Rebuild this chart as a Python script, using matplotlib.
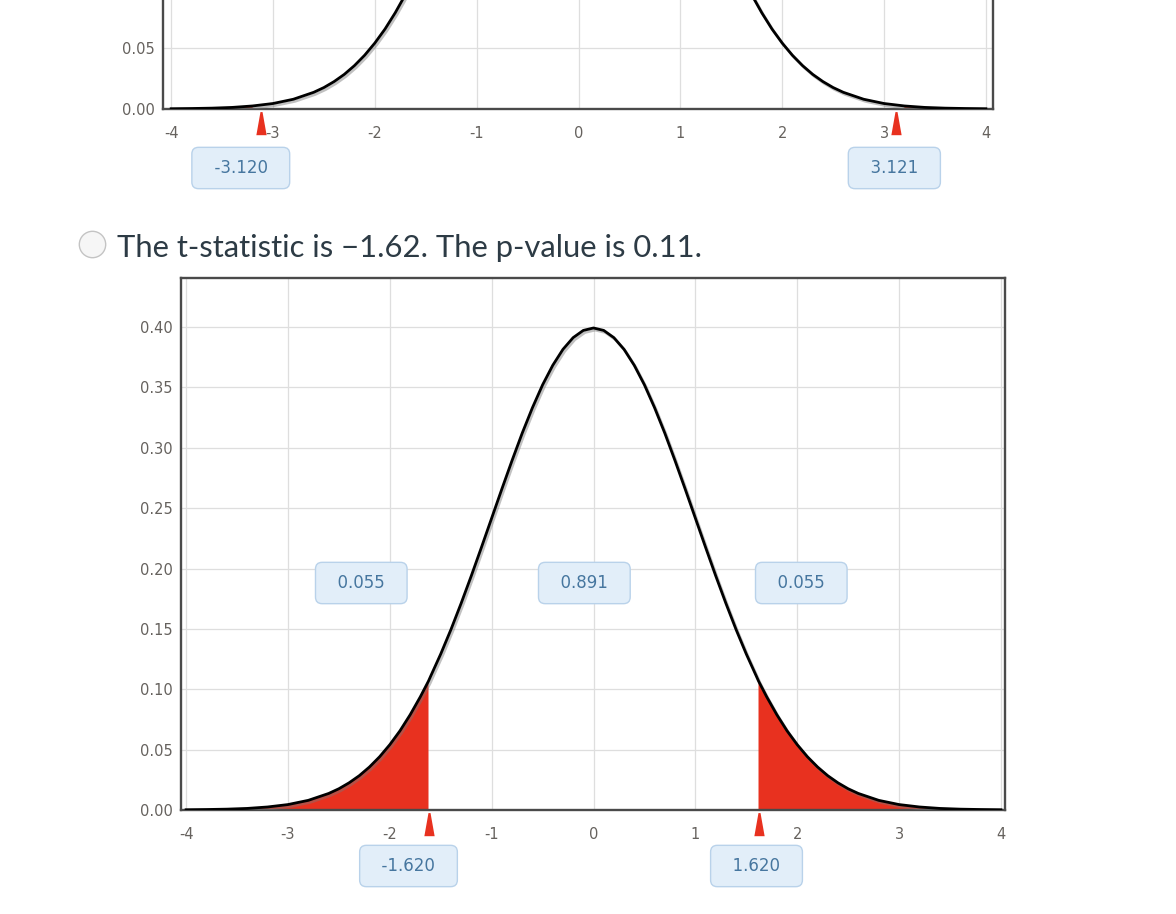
import matplotlib
matplotlib.use("Agg")
import matplotlib.pyplot as plt
import matplotlib.patheffects as pe
from matplotlib.path import Path
import numpy as np

# density curve (t distribution, close to normal)
t_vals = [-4.0, -3.8, -3.6, -3.4, -3.2, -3.0, -2.8, -2.6, -2.5, -2.4, -2.3,
          -2.2, -2.1, -2.0, -1.9, -1.8, -1.7, -1.62, -1.6, -1.5, -1.4, -1.3,
          -1.2, -1.1, -1.0, -0.9, -0.8, -0.7, -0.6, -0.5, -0.4, -0.3, -0.2,
          -0.1, 0.0, 0.1, 0.2, 0.3, 0.4, 0.5, 0.6, 0.7, 0.8, 0.9, 1.0, 1.1,
          1.2, 1.3, 1.4, 1.5, 1.6, 1.62, 1.7, 1.8, 1.9, 2.0, 2.1, 2.2, 2.3,
          2.4, 2.5, 2.6, 2.8, 3.0, 3.2, 3.4, 3.6, 3.8, 4.0]
density = [0.0002, 0.0004, 0.0007, 0.0013, 0.0025, 0.0045, 0.0080, 0.0137,
           0.0176, 0.0225, 0.0284, 0.0356, 0.0441, 0.0541, 0.0656, 0.0789,
           0.0938, 0.1068, 0.1106, 0.1292, 0.1494, 0.1711, 0.1939, 0.2176,
           0.2417, 0.2658, 0.2894, 0.3121, 0.3331, 0.3521, 0.3683, 0.3815,
           0.3912, 0.3972, 0.3992, 0.3972, 0.3912, 0.3815, 0.3683, 0.3521,
           0.3331, 0.3121, 0.2894, 0.2658, 0.2417, 0.2176, 0.1939, 0.1711,
           0.1494, 0.1292, 0.1106, 0.1068, 0.0938, 0.0789, 0.0656, 0.0541,
           0.0441, 0.0356, 0.0284, 0.0225, 0.0176, 0.0137, 0.0080, 0.0045,
           0.0025, 0.0013, 0.0007, 0.0004, 0.0002]

# top (cropped) chart
top_crit = [-3.120, 3.121]
top_crit_labels = ["-3.120", "3.121"]
top_y_ticks = [0.00, 0.05]

# bottom chart
bot_crit = [-1.620, 1.620]
bot_crit_labels = ["-1.620", "1.620"]
area_labels = ["0.055", "0.891", "0.055"]
area_x = [-2.28, -0.09, 2.04]
area_y = 0.188

question = "The t-statistic is \u22121.62. The p-value is 0.11."

x_ticks = [-4, -3, -2, -1, 0, 1, 2, 3, 4]
y_ticks = [0.00, 0.05, 0.10, 0.15, 0.20, 0.25, 0.30, 0.35, 0.40]

RED = "#e8311f"
BOX_FC = "#e2eef9"
BOX_EC = "#b9d2ea"
BOX_TXT = "#46769f"

plt.rcParams["font.family"] = ["DejaVu Sans"]
plt.rcParams["axes.unicode_minus"] = False

W, H = 1176, 914
fig = plt.figure(figsize=(W / 100, H / 100), dpi=100)

# tick marker: thin spike widening downward, tip at the axis
spike = Path([(-0.04, -0.1), (0.04, -0.1), (0.2, -1.0), (-0.2, -1.0), (-0.04, -0.1)],
             [Path.MOVETO, Path.LINETO, Path.LINETO, Path.LINETO, Path.CLOSEPOLY])


def setup_axes(rect, xlim, yt):
    ax = fig.add_axes(rect)
    ax.set_xlim(*xlim)
    ax.set_ylim(0, 0.4406)
    ax.set_xticks(x_ticks)
    ax.set_xticklabels([str(v) for v in x_ticks])
    ax.set_yticks(yt)
    ax.set_yticklabels([f"{v:.2f}" for v in yt])
    ax.tick_params(length=0, labelsize=10.5, labelcolor="#66625e")
    ax.tick_params(axis="x", pad=12)
    ax.tick_params(axis="y", pad=6)
    ax.grid(True, color="#dedede", linewidth=0.9)
    ax.set_axisbelow(True)
    for s in ax.spines.values():
        s.set_color("#4a4a4a")
        s.set_linewidth(1.7)
    return ax


def draw_curve(ax, crit):
    t = np.array(t_vals)
    d = np.array(density)
    ax.fill_between(t, d, where=(t <= crit[0]) | (t >= crit[1]),
                    color=RED, linewidth=0, zorder=2)
    ax.plot(t, d, color="black", linewidth=2.0, zorder=3,
            path_effects=[pe.SimpleLineShadow(offset=(1.2, -1.5), shadow_color="#777777", alpha=0.45),
                          pe.Normal()])


def label_box(ax, x, y, text, **kw):
    return ax.annotate("  " + text + "  ", xy=(x, y), ha="center", va="center",
                       fontsize=12, color=BOX_TXT, annotation_clip=False, zorder=6,
                       bbox=dict(boxstyle="round,pad=0.7,rounding_size=0.4",
                                 fc=BOX_FC, ec=BOX_EC, lw=1.0), **kw)


def crit_markers(ax, crit, labels, dy):
    for c, lab in zip(crit, labels):
        ax.plot([c], [0], marker=spike, markersize=37, color=RED,
                markeredgewidth=0, clip_on=False, zorder=5)
        dx = -20 if c < 0 else -2
        label_box(ax, c, 0, lab, xytext=(dx, dy), textcoords="offset pixels")


# ---- top chart (its upper part is cut off by the screenshot) ----
top_ax = setup_axes([163 / W, 1 - 109 / H, 830 / W, 537 / H], (-4.08, 4.07), top_y_ticks)
draw_curve(top_ax, top_crit)
crit_markers(top_ax, top_crit, top_crit_labels, -59)

# ---- question line with radio button ----
fig.add_artist(plt.Line2D([92 / W], [1 - 244 / H], marker="o", markersize=19,
                          markerfacecolor="#f6f6f6", markeredgecolor="#c4c4c4",
                          markeredgewidth=1.0, transform=fig.transFigure))
fig.text(117 / W, 1 - 257 / H, question, fontsize=22.3, color="#2d3b45",
         family=["Lato", "DejaVu Sans"], va="baseline", ha="left")

# ---- bottom chart ----
bot_ax = setup_axes([181 / W, 1 - 810 / H, 824 / W, 532 / H], (-4.05, 4.04), y_ticks)
draw_curve(bot_ax, bot_crit)
crit_markers(bot_ax, bot_crit, bot_crit_labels, -56)
for lab, x in zip(area_labels, area_x):
    label_box(bot_ax, x, area_y, lab)

fig.savefig("out.png", dpi=100)
